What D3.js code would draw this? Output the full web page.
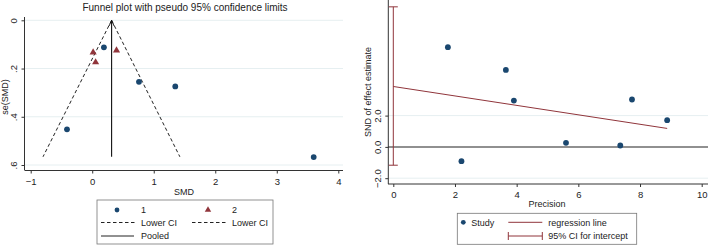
<!DOCTYPE html>
<html>
<head>
<meta charset="utf-8">
<script src="https://cdn.jsdelivr.net/npm/d3@7"></script>
<style>
  body { margin: 0; background: #fff; }
  svg { display: block; font-family: "Liberation Sans", Arial, sans-serif; }
  .axis path, .axis line { stroke: #333; }
  .axis text { font-size: 9.5px; fill: #222; }
</style>
</head>
<body>
<svg id="chart" width="708" height="245"></svg>
<script>
// funnel plot data
var grp1Smd = [0.19, 0.76, 1.35, -0.41, 3.60];
var grp1Se  = [0.112, 0.255, 0.274, 0.452, 0.567];
var grp2Smd = [0.015, 0.395, 0.055];
var grp2Se  = [0.133, 0.125, 0.174];
var pooled = 0.315;
var funnelSe = [0, 0.566];
var lowerCI = [0.315, -0.80];
var upperCI = [0.315, 1.425];
var smdTicks = [-1, 0, 1, 2, 3, 4];
var seTicks = [0, 0.2, 0.4, 0.6];

// Egger plot data
var precision = [1.77, 2.21, 3.65, 3.91, 5.60, 7.36, 7.74, 8.88];
var snd       = [6.37, -0.91, 4.92, 2.96, 0.26, 0.09, 3.03, 1.71];
var regX = [0, 8.88];
var regY = [3.86, 1.18];
var ciIntercept = [-1.17, 8.95];
var precTicks = [0, 2, 4, 6, 8, 10];
var sndTicks = [-2, 0, 2];

var navy = "#1a476f", maroon = "#90353b", grid = "#e6eff1";
var svg = d3.select("#chart");

////////////////// left: funnel
var x1 = d3.scaleLinear().domain([-1, 4]).range([30.7, 338.3]);
var y1 = d3.scaleLinear().domain([0, 0.6]).range([20.3, 165]);
var g1 = svg.append("g");

g1.append("text").attr("x", 185).attr("y", 11).attr("text-anchor", "middle")
  .attr("font-size", "10px").attr("fill", "#222")
  .text("Funnel plot with pseudo 95% confidence limits");

g1.selectAll(".grid1").data(seTicks).enter().append("line")
  .attr("x1", 25).attr("x2", 343)
  .attr("y1", d => y1(d)).attr("y2", d => y1(d))
  .attr("stroke", grid).attr("stroke-width", 1);

g1.append("g").attr("class", "axis")
  .attr("transform", "translate(0,170.5)")
  .call(d3.axisBottom(x1).tickValues(smdTicks).tickSize(3).tickSizeOuter(0).tickFormat(d3.format("d")))
  .call(g => g.select(".domain").attr("d", "M25,0H343"))
  .call(g => g.selectAll("text").attr("y", 14.5).attr("dy", 0));

g1.append("g").attr("class", "axis")
  .attr("transform", "translate(24.5,0)")
  .call(d3.axisLeft(y1).tickValues(seTicks).tickSize(3).tickSizeOuter(0)
    .tickFormat(d => d === 0 ? "0" : d3.format(".1f")(d).replace(/^0/, "")))
  .call(g => g.select(".domain").attr("d", "M0,17V170.5"))
  .call(g => g.selectAll("text").attr("transform", "rotate(-90)")
    .attr("x", 0).attr("y", -7.5).attr("dy", 0).attr("text-anchor", "middle"));

g1.append("text").attr("transform", "translate(8,97) rotate(-90)")
  .attr("text-anchor", "middle").attr("font-size", "9px").attr("fill", "#222").text("se(SMD)");
g1.append("text").attr("x", 184).attr("y", 195).attr("text-anchor", "middle")
  .attr("font-size", "9px").attr("fill", "#222").text("SMD");

// funnel lines
var lowLine = d3.line().x((d, i) => x1(lowerCI[i])).y(d => y1(d));
var upLine = d3.line().x((d, i) => x1(upperCI[i])).y(d => y1(d));
g1.append("path").datum(funnelSe).attr("d", lowLine)
  .attr("fill", "none").attr("stroke", "#222").attr("stroke-dasharray", "3.5,2.5");
g1.append("path").datum(funnelSe).attr("d", upLine)
  .attr("fill", "none").attr("stroke", "#222").attr("stroke-dasharray", "3.5,2.5");

svg.append("defs").append("marker").attr("id", "arr")
  .attr("viewBox", "0 0 10 10").attr("refX", 9).attr("refY", 5)
  .attr("markerWidth", 6).attr("markerHeight", 6).attr("orient", "auto")
  .append("path").attr("d", "M0,1L9,5L0,9").attr("fill", "none").attr("stroke", "#111").attr("stroke-width", 1.3);

g1.append("line").attr("x1", x1(pooled)).attr("x2", x1(pooled))
  .attr("y1", y1(funnelSe[1])).attr("y2", y1(0))
  .attr("stroke", "#111").attr("stroke-width", 1.1).attr("marker-end", "url(#arr)");

var tri = d3.symbol().type(d3.symbolTriangle).size(22);
g1.selectAll(".dot1").data(grp1Smd).enter().append("circle")
  .attr("cx", d => x1(d)).attr("cy", (d, i) => y1(grp1Se[i])).attr("r", 2.9).attr("fill", navy);
g1.selectAll(".tri2").data(grp2Smd).enter().append("path")
  .attr("d", tri).attr("fill", maroon)
  .attr("transform", (d, i) => "translate(" + x1(d) + "," + y1(grp2Se[i]) + ")");

// legend 1
var lg1 = g1.append("g");
lg1.append("rect").attr("x", 97).attr("y", 200).attr("width", 176).attr("height", 44)
  .attr("fill", "#fff").attr("stroke", "#777").attr("stroke-width", 0.8);
lg1.append("circle").attr("cx", 117).attr("cy", 210).attr("r", 2.4).attr("fill", navy);
lg1.append("path").attr("d", d3.symbol().type(d3.symbolTriangle).size(18)).attr("fill", maroon)
  .attr("transform", "translate(208,210)");
lg1.append("line").attr("x1", 101).attr("x2", 135).attr("y1", 222.5).attr("y2", 222.5)
  .attr("stroke", "#222").attr("stroke-dasharray", "3.5,2.5");
lg1.append("line").attr("x1", 192).attr("x2", 227).attr("y1", 222.5).attr("y2", 222.5)
  .attr("stroke", "#222").attr("stroke-dasharray", "3.5,2.5");
lg1.append("line").attr("x1", 101).attr("x2", 134).attr("y1", 236).attr("y2", 236)
  .attr("stroke", "#222");
[["1", 141, 213.3], ["2", 232, 213.3], ["Lower CI", 141, 226], ["Lower CI", 232, 226], ["Pooled", 141, 239.3]]
  .forEach(t => lg1.append("text").attr("x", t[1]).attr("y", t[2])
    .attr("font-size", "9px").attr("fill", "#222").text(t[0]));

////////////////// right: Egger
var x2 = d3.scaleLinear().domain([0, 10]).range([393.3, 701.7]);
var y2 = d3.scaleLinear().domain([-2, 2]).range([178.2, 115.6]);
var g2 = svg.append("g");

g2.selectAll(".grid2").data([-2, 2]).enter().append("line")
  .attr("x1", 388).attr("x2", 708)
  .attr("y1", d => y2(d)).attr("y2", d => y2(d))
  .attr("stroke", grid);
g2.append("line").attr("x1", 388).attr("x2", 708).attr("y1", y2(0)).attr("y2", y2(0))
  .attr("stroke", "#6b6b6b").attr("stroke-width", 1.5);

g2.append("g").attr("class", "axis")
  .attr("transform", "translate(0,184)")
  .call(d3.axisBottom(x2).tickValues(precTicks).tickSize(3).tickSizeOuter(0))
  .call(g => g.select(".domain").attr("d", "M388,0H708"))
  .call(g => g.selectAll("text").attr("y", 13.5).attr("dy", 0));

g2.append("g").attr("class", "axis")
  .attr("transform", "translate(388.3,0)")
  .call(d3.axisLeft(y2).tickValues(sndTicks).tickSize(3).tickSizeOuter(0))
  .call(g => g.select(".domain").attr("d", "M0,0V184"))
  .call(g => g.selectAll("text").attr("transform", "rotate(-90)")
    .attr("x", 0).attr("y", -7.5).attr("dy", 0).attr("text-anchor", "middle"));

g2.append("text").attr("transform", "translate(371,92) rotate(-90)")
  .attr("text-anchor", "middle").attr("font-size", "9px").attr("fill", "#222").text("SND of effect estimate");
g2.append("text").attr("x", 547).attr("y", 207).attr("text-anchor", "middle")
  .attr("font-size", "9px").attr("fill", "#222").text("Precision");

// CI for intercept
g2.append("line").attr("x1", x2(0)).attr("x2", x2(0))
  .attr("y1", y2(ciIntercept[0])).attr("y2", y2(ciIntercept[1]))
  .attr("stroke", maroon).attr("stroke-width", 1);
ciIntercept.forEach(v => g2.append("line")
  .attr("x1", x2(0) - 4.5).attr("x2", x2(0) + 4.5).attr("y1", y2(v)).attr("y2", y2(v))
  .attr("stroke", maroon).attr("stroke-width", 1));

g2.append("path").datum(regX)
  .attr("d", d3.line().x(d => x2(d)).y((d, i) => y2(regY[i])))
  .attr("fill", "none").attr("stroke", maroon).attr("stroke-width", 1);

g2.selectAll(".dot2").data(precision).enter().append("circle")
  .attr("cx", d => x2(d)).attr("cy", (d, i) => y2(snd[i])).attr("r", 2.9).attr("fill", navy);

// legend 2
var lg2 = g2.append("g");
lg2.append("rect").attr("x", 457.3).attr("y", 213.3).attr("width", 179.4).attr("height", 31)
  .attr("fill", "#fff").attr("stroke", "#777").attr("stroke-width", 0.8);
lg2.append("circle").attr("cx", 463.3).attr("cy", 222.3).attr("r", 2.4).attr("fill", navy);
lg2.append("line").attr("x1", 508.3).attr("x2", 542.3).attr("y1", 222.3).attr("y2", 222.3)
  .attr("stroke", maroon);
lg2.append("line").attr("x1", 508.3).attr("x2", 542.3).attr("y1", 236).attr("y2", 236)
  .attr("stroke", maroon);
[508.3, 542.3].forEach(x => lg2.append("line").attr("x1", x).attr("x2", x)
  .attr("y1", 232).attr("y2", 240).attr("stroke", maroon));
[["Study", 471.3, 225.6], ["regression line", 548.3, 225.6], ["95% CI for intercept", 548.3, 239.3]]
  .forEach(t => lg2.append("text").attr("x", t[1]).attr("y", t[2])
    .attr("font-size", "9px").attr("fill", "#222").text(t[0]));
</script>
</body>
</html>
